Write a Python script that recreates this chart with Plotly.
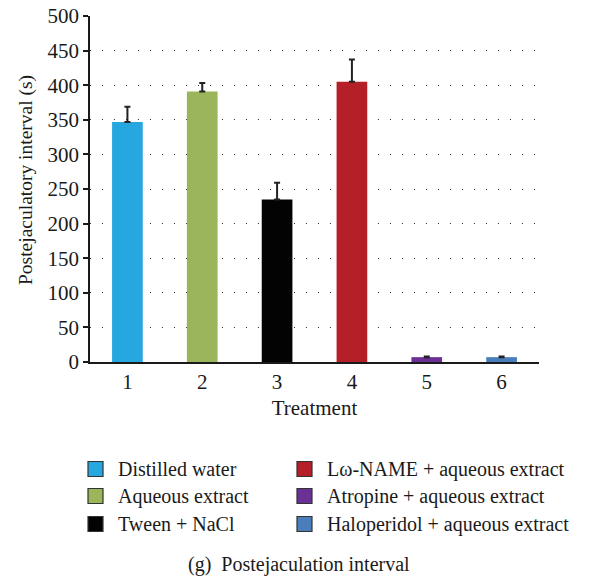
import plotly.graph_objects as go

# Treatment groups, mean postejaculatory interval and SEM
treatments = ["1", "2", "3", "4", "5", "6"]
group_names = [
    "Distilled water",
    "Aqueous extract",
    "Tween + NaCl",
    "Lω-NAME + aqueous extract",
    "Atropine + aqueous extract",
    "Haloperidol + aqueous extract",
]
mean_interval = [347, 391, 235, 405, 7, 7]
sem_interval = [22, 12, 24, 32, 1, 1]
bar_colors = ["#27A7E0", "#9BB55B", "#030303", "#B51F27", "#6A3094", "#4A7EBB"]

y_ticks = [0, 50, 100, 150, 200, 250, 300, 350, 400, 450, 500]

SERIF = "Liberation Serif"
AXIS_SIZE = 21
KEY_SIZE = 20

# plot area in pixels (left, right, top, bottom)
PL, PR, PT, PB = 90, 539, 16, 362


def px_x(x):
    return (x - PL) / (PR - PL)


def px_y(y):
    return (PB - y) / (PB - PT)


fig = go.Figure()
fig.add_trace(go.Bar(
    x=treatments,
    y=mean_interval,
    marker=dict(color=bar_colors, line=dict(width=0)),
    width=0.41,
    error_y=dict(type="data", array=sem_interval, symmetric=False,
                 arrayminus=[0] * len(sem_interval),
                 color="#222222", thickness=2, width=3),
    showlegend=False,
))

fig.update_layout(
    width=590, height=577,
    margin=dict(l=PL, r=590 - PR, t=PT, b=577 - PB, autoexpand=False),
    plot_bgcolor="white", paper_bgcolor="white",
    font=dict(family=SERIF, color="#1a1a1a", size=AXIS_SIZE),
    xaxis=dict(
        type="category",
        range=[-0.5, 5.5],
        showline=True, linecolor="#1a1a1a", linewidth=1.5,
        ticks="", showgrid=False,
        tickfont=dict(family=SERIF, size=AXIS_SIZE),
        title=dict(text="Treatment", font=dict(family=SERIF, size=AXIS_SIZE), standoff=7),
    ),
    yaxis=dict(
        range=[0, 500],
        tickvals=y_ticks,
        showline=True, linecolor="#1a1a1a", linewidth=1.5,
        ticks="outside", ticklen=5, tickcolor="#1a1a1a", tickwidth=1.5,
        showgrid=True, gridcolor="#333333", gridwidth=1.3,
        griddash="1.3px,10.7px",
        zeroline=False,
        tickfont=dict(family=SERIF, size=AXIS_SIZE),
    ),
)

# Vertical y-axis title
fig.add_annotation(
    xref="paper", yref="paper",
    x=px_x(26), y=px_y(180),
    xanchor="center", yanchor="middle", textangle=-90,
    text="Postejaculatory interval (s)", showarrow=False,
    font=dict(family=SERIF, size=19.5, color="#1a1a1a"),
)

# Two-column legend of colour keys below the plot
col_x = [88, 297]
row_y = [469, 496, 524]
for i, (name, color) in enumerate(zip(group_names, bar_colors)):
    cx = col_x[i // 3]
    cy = row_y[i % 3]
    fig.add_shape(
        type="rect", xref="paper", yref="paper",
        x0=px_x(cx), x1=px_x(cx + 15),
        y0=px_y(cy + 7.5), y1=px_y(cy - 7.5),
        fillcolor=color, line=dict(color="#333333", width=1.2),
    )
    fig.add_annotation(
        xref="paper", yref="paper",
        x=px_x(cx + 28), y=px_y(cy),
        xanchor="left", yanchor="middle",
        text=name, showarrow=False,
        font=dict(family=SERIF, size=KEY_SIZE, color="#1a1a1a"),
    )

# Panel caption
fig.add_annotation(
    xref="paper", yref="paper",
    x=px_x(299), y=px_y(564),
    xanchor="center", yanchor="middle",
    text="(g)  Postejaculation interval", showarrow=False,
    font=dict(family=SERIF, size=KEY_SIZE, color="#1a1a1a"),
)

fig.write_html("out.html")
